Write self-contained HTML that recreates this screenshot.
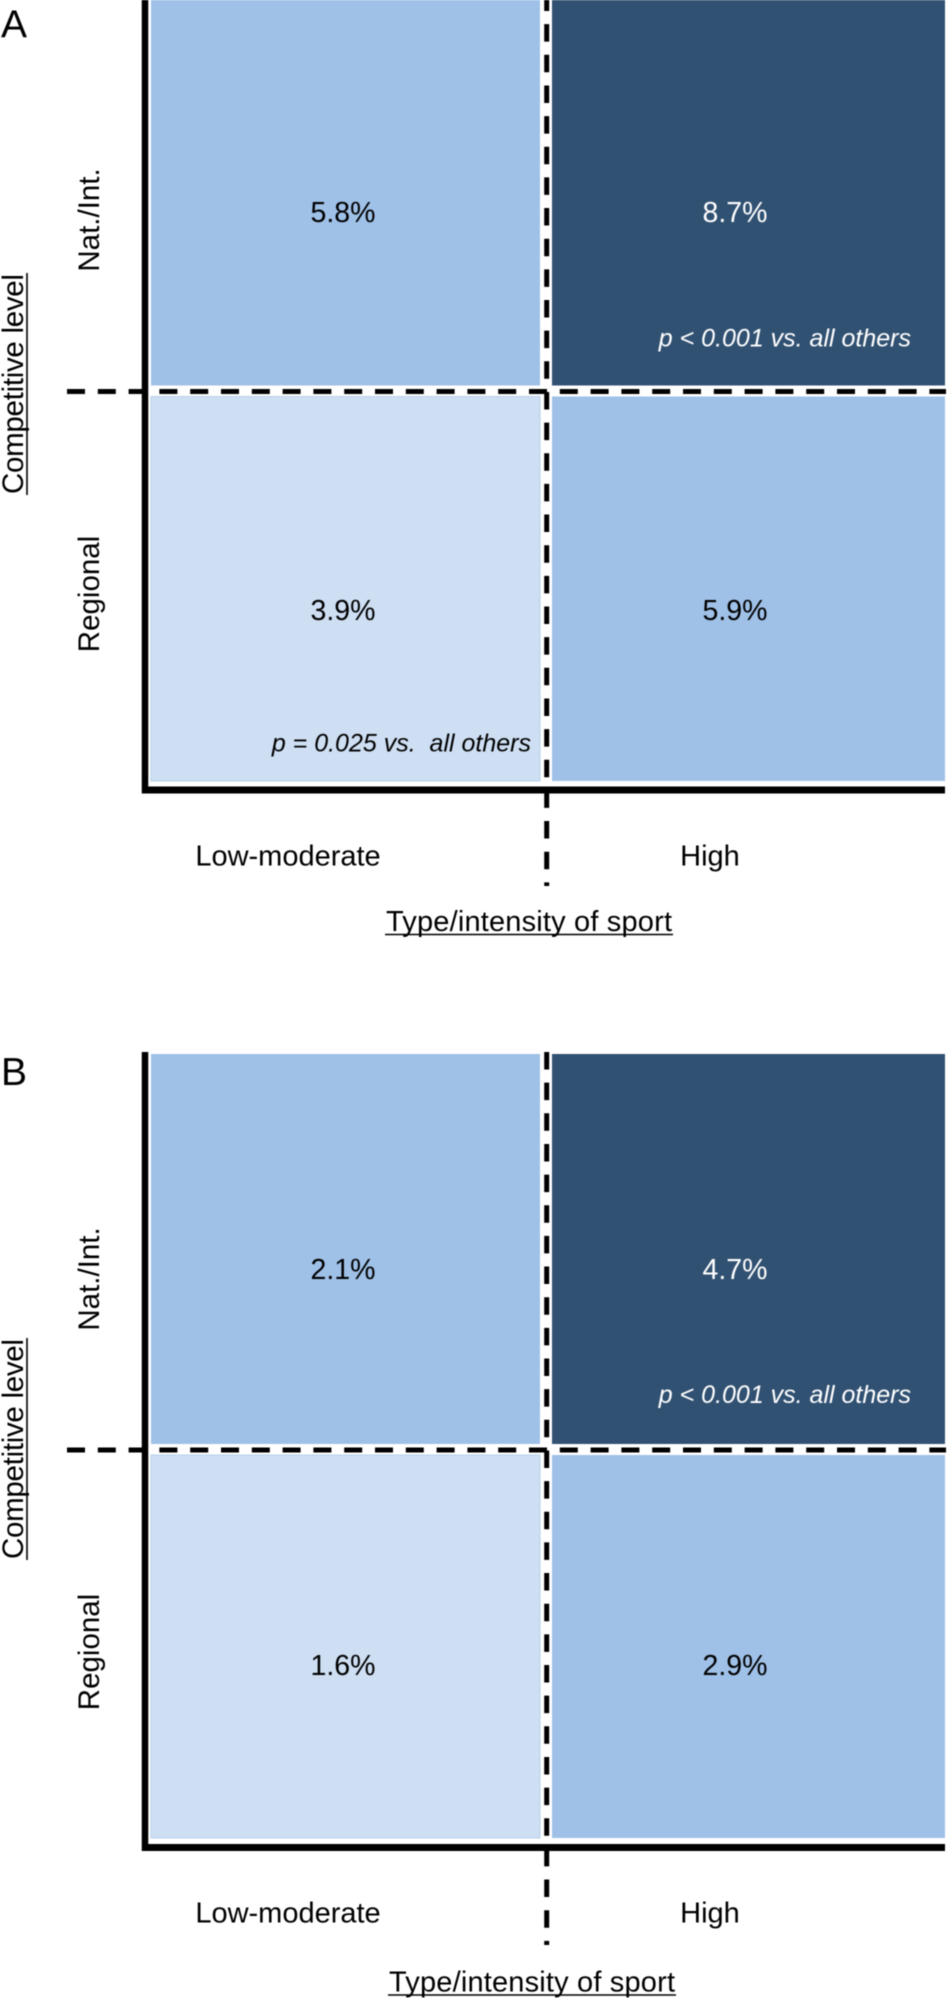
<!DOCTYPE html>
<html lang="en">
<head>
<meta charset="utf-8">
<title>Competitive level by type/intensity of sport</title>
<style>
  html, body { margin: 0; padding: 0; background: #fff; }
  svg { display: block; font-family: "Liberation Sans", Arial, sans-serif; filter: blur(0.4px); }
  text { white-space: pre; }
</style>
</head>
<body>
<svg id="figure" xmlns="http://www.w3.org/2000/svg" width="949" height="1998" viewBox="0 0 949 1998"></svg>
<script>
// Chart data: order is [Nat./Int.+Low-moderate, Nat./Int.+High, Regional+Low-moderate, Regional+High]
const intensityCategories = ["Low-moderate", "High"];
const levelCategories = ["Nat./Int.", "Regional"];
const panelAValues = [5.8, 8.7, 3.9, 5.9];
const panelBValues = [2.1, 4.7, 1.6, 2.9];
const panelANotes = ["", "p < 0.001 vs. all others", "p = 0.025 vs.  all others", ""];
const panelBNotes = ["", "p < 0.001 vs. all others", "", ""];

const NS = "http://www.w3.org/2000/svg";
const root = document.getElementById("figure");

function add(parent, tag) {
  const el = document.createElementNS(NS, tag);
  parent.appendChild(el);
  return el;
}
function setAll(el, attrs) {
  for (const k in attrs) el.setAttribute(k, attrs[k]);
  return el;
}
function label(parent, str, x, y, size, fill, extra) {
  const t = add(parent, "text");
  setAll(t, { x: x, y: y + size * 0.355, "font-size": size, fill: fill, "text-anchor": "middle" });
  if (extra) setAll(t, extra);
  t.textContent = str;
  return t;
}
function fillFor(value, values) {
  if (value === Math.max.apply(null, values)) return "#315172";
  if (value === Math.min.apply(null, values)) return "#cedff3";
  return "#9fc0e7";
}

function drawPanel(name, letter, values, notes, g) {
  const panel = add(root, "g");
  
  

  // axis functions
  const xLeft = c => (c === 0 ? 151 : 552);
  const xRight = c => (c === 0 ? 540 : 945);
  const yTop = r => (r === 0 ? g.top : g.mid + 5);
  const yBottom = r => (r === 0 ? g.mid - 6 : g.bottom);
  const xValue = c => 343 + c * 392;
  const xTick = c => 288 + c * 422;
  const yValue = r => g.val0 + r * g.valStep;

  values.forEach((v, i) => {
    const c = i % 2, r = Math.floor(i / 2);
    const rect = add(panel, "rect");
    
    
    setAll(rect, { x: xLeft(c), y: yTop(r), width: xRight(c) - xLeft(c), height: yBottom(r) - yTop(r), fill: fillFor(v, values) });
    if (fillFor(v, values) === "#cedff3") setAll(rect, { stroke: "#b9d0ea", "stroke-width": 1 });
  });

  const vDash = add(panel, "line");
  
  
  setAll(vDash, { x1: 546.7, x2: 546.7, y1: g.vStart, y2: g.vEnd, stroke: "#000", "stroke-width": 5, "stroke-dasharray": "17.5 13.15" });

  const hDash = add(panel, "line");
  
  
  setAll(hDash, { x1: 67, x2: 946, y1: g.mid, y2: g.mid, stroke: "#000", "stroke-width": 5, "stroke-dasharray": "18 12.8" });

  const yAxis = add(panel, "line");
  
  
  setAll(yAxis, { x1: 145, x2: 145, y1: g.axisTop, y2: g.axisY + 3.5, stroke: "#000", "stroke-width": 6.5 });

  const xAxis = add(panel, "line");
  
  
  setAll(xAxis, { x1: 142, x2: 945, y1: g.axisY, y2: g.axisY, stroke: "#000", "stroke-width": 7 });

  values.forEach((v, i) => {
    const c = i % 2, r = Math.floor(i / 2);
    const t = label(panel, v.toFixed(1) + "%", xValue(c), yValue(r), 28.5, fillFor(v, values) === "#315172" ? "#fff" : "#000");
    
    
  });

  notes.forEach((n, i) => {
    if (!n) return;
    const c = i % 2, r = Math.floor(i / 2);
    const t = label(panel, n, c === 1 ? 911 : 531, g.mid + (r === 0 ? g.noteTop : g.noteBottom), 25, c === 1 ? "#fff" : "#000", {
      "text-anchor": "end", "font-style": "italic"
    });
    
    
  });

  intensityCategories.forEach((cat, c) => {
    const t = label(panel, cat, xTick(c), g.tickY, 29, "#000");
    
    
  });

  levelCategories.forEach((lev, r) => {
    const cy = r === 0 ? g.natY : g.regY;
    const t = label(panel, lev, 0, 0, 29.5, "#000", { transform: "translate(99," + cy + ") rotate(-90)" });
    t.setAttribute("y", 0);
    
    
  });

  const xTitle = label(panel, "Type/intensity of sport", g.xTitleX, g.xTitleY, 29, "#000");
  
  
  xTitle.setAttribute("textLength", 286);

  const xLine = add(panel, "line");
  
  
  setAll(xLine, { x1: g.xTitleX - 144, x2: g.xTitleX + 144, y1: g.xTitleY + 14, y2: g.xTitleY + 14, stroke: "#000", "stroke-width": 1.6 });

  const yTitle = label(panel, "Competitive level", 0, 0, 29.5, "#000", { transform: "translate(23," + g.yTitleY + ") rotate(-90)" });
  yTitle.setAttribute("y", 0);
  
  
  yTitle.setAttribute("textLength", 220);

  const yLine = add(panel, "line");
  
  
  setAll(yLine, { x1: 27, x2: 27, y1: g.yTitleY - 111, y2: g.yTitleY + 111, stroke: "#000", "stroke-width": 1.6 });

  const pl = label(panel, letter, 14, g.letterY, 39, "#000");
  
  
}

drawPanel("panel-a", "A", panelAValues, panelANotes, {
  top: -5, mid: 391.5, bottom: 781, axisTop: -5, axisY: 790, vStart: -6.5, vEnd: 886,
  val0: 212, valStep: 398, noteTop: -54, noteBottom: 351,
  tickY: 855, natY: 220, regY: 594, xTitleX: 529, xTitleY: 920.5, yTitleY: 384, letterY: 23.5
});
drawPanel("panel-b", "B", panelBValues, panelBNotes, {
  top: 1054, mid: 1450, bottom: 1838, axisTop: 1052, axisY: 1847.5, vStart: 1052, vEnd: 1945,
  val0: 1269, valStep: 396, noteTop: -56, noteBottom: 0,
  tickY: 1912, natY: 1279, regY: 1652, xTitleX: 532, xTitleY: 1981, yTitleY: 1449, letterY: 1071
});
</script>
</body>
</html>
